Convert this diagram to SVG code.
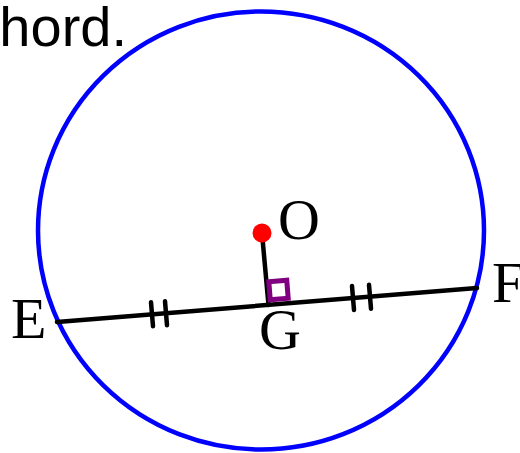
<svg xmlns="http://www.w3.org/2000/svg" width="520" height="453" viewBox="0 0 520 453">
  <style>
    .lbl { font-family: "Liberation Serif", "Times New Roman", serif; font-size: 58px; fill: #000; }
    .title { font-family: "Liberation Sans", Arial, sans-serif; font-size: 56px; fill: #000; }
    .seg { stroke: #000; stroke-width: 4.5; fill: none; stroke-linecap: round; }
    .tick { stroke: #000; stroke-width: 4.5; stroke-linecap: round; }
  </style>
  <rect width="520" height="453" fill="#fff"/>
  <text class="title" x="127" y="46" text-anchor="end">chord.</text>
  <g id="circle">
    <ellipse cx="261" cy="230.5" rx="223" ry="219" fill="none" stroke="#0000FF" stroke-width="4.5"/>
  </g>
  <g id="connectors">
    <line class="seg" x1="57" y1="322" x2="477" y2="288"/>
    <line class="seg" x1="262" y1="233" x2="268.5" y2="305"/>
    <line class="tick" x1="151" y1="302.3" x2="153" y2="326.3"/>
    <line class="tick" x1="165" y1="301.2" x2="167" y2="325.2"/>
    <line class="tick" x1="352" y1="286" x2="354" y2="310"/>
    <line class="tick" x1="369" y1="284.7" x2="371" y2="308.7"/>
  </g>
  <g id="right-angle">
    <rect x="-9" y="-9" width="18" height="18" fill="none" stroke="#800080" stroke-width="5" transform="translate(278.5 290) rotate(-4.6)"/>
  </g>
  <g id="node-O">
    <circle cx="262" cy="233" r="9.5" fill="#FF0000"/>
    <text class="lbl" x="278" y="239">O</text>
  </g>
  <g id="node-E">
    <text class="lbl" x="11" y="338">E</text>
  </g>
  <g id="node-F">
    <text class="lbl" x="492" y="302">F</text>
  </g>
  <g id="node-G">
    <text class="lbl" x="259" y="349">G</text>
  </g>
</svg>
